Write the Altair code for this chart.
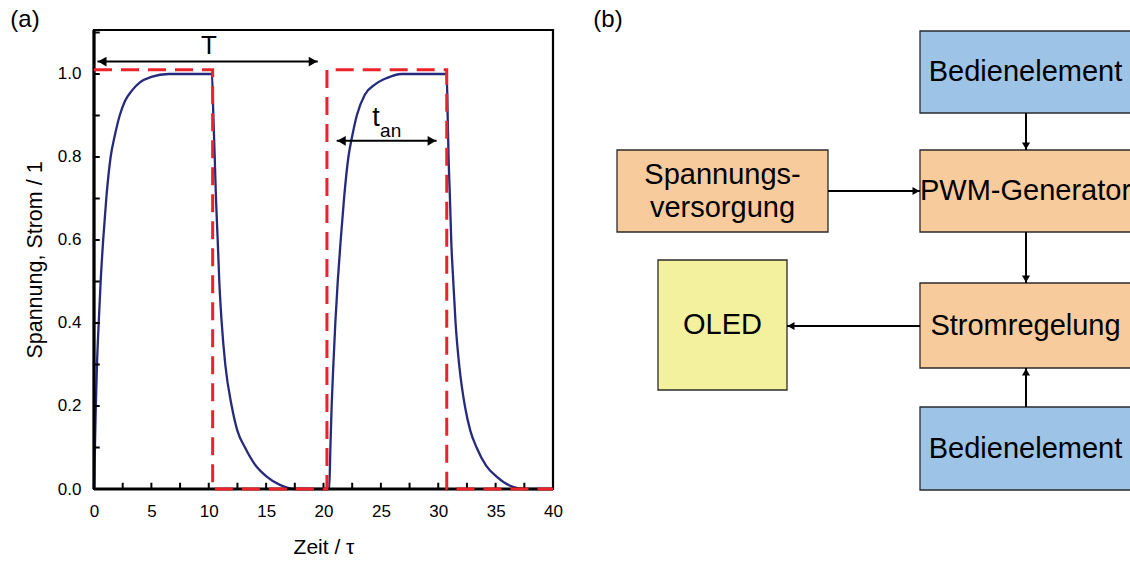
import altair as alt
import pandas as pd

FONT = "Liberation Sans"

# ---------------- panel (a) data ----------------
blue_t = [0, 0.08, 0.16, 0.26, 0.41, 0.58, 0.8, 1.07, 1.45, 1.8, 2.24, 2.7, 3.3, 4.0, 5.0, 6.5, 10.28,
          10.4, 10.52, 10.63, 10.78, 10.92, 11.13, 11.44, 12.0, 12.5, 13.16, 14.0, 15.05, 16.2, 17.5, 20.5,
          20.6, 20.71, 20.86, 21.03, 21.24, 21.5, 21.79, 22.17, 22.5, 22.9, 23.6, 24.5, 25.5, 26.8, 30.74,
          30.82, 30.9, 31.02, 31.13, 31.31, 31.51, 31.82, 32.32, 32.8, 33.34, 34.2, 35.08, 36.5, 37.5, 40]
blue_v = [0, 0.1, 0.2, 0.3, 0.4, 0.5, 0.6, 0.7, 0.8, 0.85, 0.9, 0.935, 0.96, 0.98, 0.993, 1.0, 1.0,
          0.9, 0.8, 0.7, 0.6, 0.5, 0.4, 0.3, 0.2, 0.14, 0.1, 0.06, 0.03, 0.01, 0.0, 0.0,
          0.1, 0.2, 0.3, 0.4, 0.5, 0.6, 0.7, 0.8, 0.85, 0.9, 0.95, 0.975, 0.99, 1.0, 1.0,
          0.9, 0.8, 0.7, 0.6, 0.5, 0.4, 0.3, 0.2, 0.14, 0.1, 0.055, 0.03, 0.005, 0.0, 0.0]

red_t = [0, 10.34, 10.34, 20.3, 20.3, 30.74, 30.74, 40]
red_v = [1.01, 1.01, 0, 0, 1.01, 1.01, 0, 0]

x_label_vals = [0, 5, 10, 15, 20, 25, 30, 35, 40]
x_tick_vals = [0, 2.5, 5, 7.5, 10, 12.5, 15, 17.5, 20, 22.5, 25, 27.5, 30, 32.5, 35, 37.5, 40]
y_label_vals = [0.0, 0.2, 0.4, 0.6, 0.8, 1.0]
y_tick_vals = [0.0, 0.1, 0.2, 0.3, 0.4, 0.5, 0.6, 0.7, 0.8, 0.9, 1.0, 1.1]

X_DOMAIN = [0, 40]
Y_DOMAIN = [0, 1.106]

# annotations (data units)
period_arrow = {"t": 0.3, "t2": 19.5, "v": 1.03}
on_arrow = {"t": 21.15, "t2": 29.86, "v": 0.839}

# ---------------- panel (b) layout (pixels) ----------------
BLUE = "#9dc3e6"
PEACH = "#f8cb9c"
YELLOW = "#f3f19d"
box_labels = ["Bedienelement", "PWM-Generator", "Spannungs-\nversorgung", "Stromregelung", "OLED", "Bedienelement"]
box_colors = [BLUE, PEACH, PEACH, PEACH, YELLOW, BLUE]
box_x1 = [920, 920, 617, 920, 658, 920]
box_x2 = [1131, 1131, 828, 1131, 787, 1131]
box_y1 = [31, 150, 150, 283, 260, 407]
box_y2 = [113, 232, 232, 368, 390, 490]

arrow_x1 = [1026, 828, 1026, 920, 1026]
arrow_y1 = [113, 191, 232, 326, 407]
arrow_x2 = [1026, 920, 1026, 787, 1026]
arrow_y2 = [150, 191, 283, 326, 368]
arrow_shape = ["triangle-down", "triangle-right", "triangle-down", "triangle-left", "triangle-up"]

LINE_H = 33

# ---------------- build panel (a) ----------------
xscale = alt.Scale(domain=X_DOMAIN, range=[94, 553], nice=False, zero=False)
yscale = alt.Scale(domain=Y_DOMAIN, range=[489, 30], nice=False, zero=False)

x_axis = alt.Axis(values=x_label_vals, format="d", ticks=False, domain=False, grid=False,
                  labelFont=FONT, labelFontSize=17, labelColor="black", labelPadding=14,
                  labelFlush=False, labelOverlap=False,
                  title="Zeit / τ", titleFont=FONT, titleFontSize=21, titleFontWeight="normal",
                  titleColor="black", titlePadding=17, offset=-72)
y_axis = alt.Axis(values=y_label_vals, format=".1f", ticks=False, domain=False, grid=False,
                  labelFont=FONT, labelFontSize=17, labelColor="black", labelPadding=13,
                  labelFlush=False, labelOverlap=False,
                  title="Spannung, Strom / 1", titleFont=FONT, titleFontSize=21.5,
                  titleFontWeight="normal", titleColor="black", titlePadding=11, offset=-94)

X = alt.X("t:Q", scale=xscale, axis=x_axis)
Y = alt.Y("v:Q", scale=yscale, axis=y_axis)

frame = alt.Chart(pd.DataFrame({"t": [X_DOMAIN[0]], "t2": [X_DOMAIN[1]],
                                "v": [Y_DOMAIN[0]], "v2": [Y_DOMAIN[1]]})).mark_rect(
    fillOpacity=0, stroke="black", strokeWidth=2.2).encode(x=X, x2="t2", y=Y, y2="v2")

axis_lines = alt.Chart(pd.DataFrame({"t": [0, 0], "t2": [0, 40], "v": [0, 0], "v2": [Y_DOMAIN[1], 0]})).mark_rule(
    color="black", strokeWidth=3.2).encode(x=X, x2="t2", y=Y, y2="v2")

xt = pd.DataFrame({"t": x_tick_vals, "v": [0] * len(x_tick_vals), "v2": [0.015] * len(x_tick_vals)})
x_ticks = alt.Chart(xt).mark_rule(color="black", strokeWidth=2).encode(x=X, y=Y, y2="v2")
yt = pd.DataFrame({"v": y_tick_vals, "t": [0] * len(y_tick_vals), "t2": [0.5] * len(y_tick_vals)})
y_ticks = alt.Chart(yt).mark_rule(color="black", strokeWidth=2).encode(x=X, x2="t2", y=Y)

blue_df = pd.DataFrame({"t": blue_t, "v": blue_v, "i": range(len(blue_t))})
blue = alt.Chart(blue_df).mark_line(color="#252a7c", strokeWidth=2.3, interpolate="monotone").encode(
    x=X, y=Y, order="i:Q")

red_df = pd.DataFrame({"t": red_t, "v": red_v, "i": range(len(red_t))})
red = alt.Chart(red_df).mark_line(color="#ec2329", strokeWidth=3, strokeDash=[18, 9]).encode(
    x=X, y=Y, order="i:Q")

arr_df = pd.DataFrame([period_arrow, on_arrow])
arr_lines = alt.Chart(arr_df).mark_rule(color="black", strokeWidth=2).encode(x=X, x2="t2", y=Y)
heads = []
for a in (period_arrow, on_arrow):
    heads.append({"t": a["t"] + 0.42, "v": a["v"], "shape": "triangle-left"})
    heads.append({"t": a["t2"] - 0.42, "v": a["v"], "shape": "triangle-right"})
arr_heads = alt.Chart(pd.DataFrame(heads)).mark_point(filled=True, size=95, color="black", opacity=1).encode(
    x=X, y=Y, shape=alt.Shape("shape:N", scale=None))

ann_df = pd.DataFrame({"t": [10.02, 24.57, 25.85], "v": [1.067, 0.894, 0.862],
                       "txt": ["T", "t", "an"], "fs": [26, 27, 19]})
ann = alt.Chart(ann_df).mark_text(font=FONT, color="black", baseline="middle", align="center").encode(
    x=X, y=Y, text="txt:N", size=alt.Size("fs:Q", scale=None))

panel_a = alt.layer(frame, blue, x_ticks, y_ticks, axis_lines, red, arr_lines, arr_heads, ann)

# ---------------- build panel (b) ----------------
PX = lambda f: alt.X(f + ":Q", scale=None, axis=None)
PY = lambda f: alt.Y(f + ":Q", scale=None, axis=None)

box_df = pd.DataFrame({"label": box_labels, "color": box_colors, "x1": box_x1, "x2": box_x2,
                       "y1": box_y1, "y2": box_y2})
box_df["cx"] = (box_df["x1"] + box_df["x2"]) / 2
box_df["cy"] = (box_df["y1"] + box_df["y2"]) / 2
box_df["ty"] = box_df["cy"] - box_df["label"].str.count("\n") * LINE_H / 2
boxes = alt.Chart(box_df).mark_rect(stroke="#2b2b2b", strokeWidth=1.3).encode(
    x=PX("x1"), x2="x2", y=PY("y1"), y2="y2", fill=alt.Fill("color:N", scale=None))
box_text = alt.Chart(box_df).mark_text(font=FONT, fontSize=29, color="black", lineBreak="\n",
                                       lineHeight=LINE_H, baseline="middle", align="center").encode(
    x=PX("cx"), y=PY("ty"), text="label:N")

ar_df = pd.DataFrame({"x1": arrow_x1, "y1": arrow_y1, "x2": arrow_x2, "y2": arrow_y2, "shape": arrow_shape})
ar_lines = alt.Chart(ar_df).mark_rule(color="black", strokeWidth=2).encode(
    x=PX("x1"), x2="x2", y=PY("y1"), y2="y2")
off = {"triangle-down": (0, -4), "triangle-up": (0, 4), "triangle-left": (4, 0), "triangle-right": (-4, 0)}
ar_df["hx"] = [x + off[s][0] for x, s in zip(arrow_x2, arrow_shape)]
ar_df["hy"] = [y + off[s][1] for y, s in zip(arrow_y2, arrow_shape)]
ar_heads = alt.Chart(ar_df).mark_point(filled=True, size=65, color="black", opacity=1).encode(
    x=PX("hx"), y=PY("hy"), shape=alt.Shape("shape:N", scale=None))

lab_df = pd.DataFrame({"px": [25, 608], "py": [20, 20], "txt": ["(a)", "(b)"]})
labels = alt.Chart(lab_df).mark_text(font=FONT, fontSize=24, color="black", baseline="middle",
                                     align="center").encode(x=PX("px"), y=PY("py"), text="txt:N")

panel_b = alt.layer(boxes, box_text, ar_lines, ar_heads, labels)

chart = alt.layer(panel_a, panel_b).resolve_scale(x="independent", y="independent").properties(
    width=1130, height=561, padding=0, autosize=alt.AutoSizeParams(type="none"), background="white"
).configure_view(stroke=None)

chart.save("out.html", embed_options={"renderer": "svg", "actions": False})
